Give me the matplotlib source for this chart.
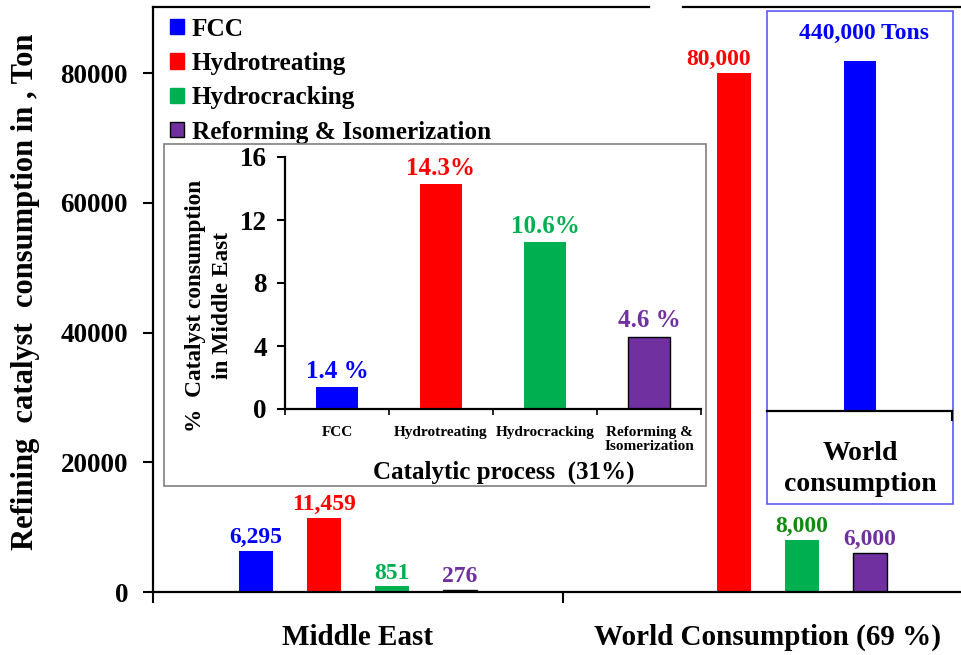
import matplotlib
matplotlib.use('Agg')
import matplotlib.pyplot as plt
import numpy as np
from matplotlib.patches import Patch, Rectangle

plt.rcParams['font.family'] = ['Liberation Serif', 'DejaVu Serif']
plt.rcParams['font.weight'] = 'bold'
plt.rcParams['axes.labelweight'] = 'bold'

# data
processes = ['FCC', 'Hydrotreating', 'Hydrocracking', 'Reforming & Isomerization']
inset_ticks = ['FCC', 'Hydrotreating', 'Hydrocracking', 'Reforming &\nIsomerization']
regions = ['Middle East', 'World Consumption (69 %)']
middle_east = [6295, 11459, 851, 276]
world = [440000, 80000, 8000, 6000]
me_labels = ['6,295', '11,459', '851', '276']
world_labels = ['440,000 Tons', '80,000', '8,000', '6,000']
me_share = [1.4, 14.3, 10.6, 4.6]
share_labels = ['1.4 %', '14.3%', '10.6%', '4.6 %']

colors = ['#0000FF', '#FF0000', '#00B050', '#7030A0']
me_text_colors = ['#0000FF', '#FF0000', '#00B050', '#7030A0']
world_text_colors = ['#0000FF', '#FF0000', '#118A11', '#7030A0']
edges = ['none', 'none', 'none', 'black']

W, H = 962, 655
fig = plt.figure(figsize=(W / 100, H / 100), dpi=100)


def fbox(x0, y0, x1, y1):
    # pixel box (top-left origin) -> figure coords
    return [x0 / W, 1 - y1 / H, (x1 - x0) / W, (y1 - y0) / H]


# ---------------- main axes
ax = fig.add_axes(fbox(153, 7, 973, 592))
ymax = 90200
ax.set_ylim(0, ymax)
ax.set_xlim(-0.5, 1.5)
bw = 34 / 410
step = 68 / 410
offsets = (np.arange(4) - 1.5) * step

for i in range(4):
    ax.bar(offsets[i], middle_east[i], bw, color=colors[i], edgecolor=edges[i], linewidth=1)
    ax.annotate(me_labels[i], (offsets[i], middle_east[i]), xytext=(0, 2),
                textcoords='offset points', ha='center', va='bottom',
                color=me_text_colors[i], fontsize=17)
    if world[i] < ymax:
        ax.bar(1 + offsets[i], world[i], bw, color=colors[i], edgecolor=edges[i], linewidth=1)
        dx = -11 if i == 1 else 0
        ax.annotate(world_labels[i], (1 + offsets[i], world[i]), xytext=(dx, 2),
                    textcoords='offset points', ha='center', va='bottom',
                    color=world_text_colors[i], fontsize=17)

ax.spines['right'].set_visible(False)
ax.spines['top'].set_visible(False)
for s in ['left', 'bottom']:
    ax.spines[s].set_linewidth(1.6)

# top border broken where the off-scale FCC bar passes
gx0 = 1 + offsets[0] - bw / 2
gx1 = 1 + offsets[0] + bw / 2
tr = ax.get_xaxis_transform()
ax.plot([-0.5, gx0], [1, 1], color='k', lw=1.6, transform=tr, clip_on=False)
ax.plot([gx1, 1.5], [1, 1], color='k', lw=1.6, transform=tr, clip_on=False)

ax.set_yticks([0, 20000, 40000, 60000, 80000])
ax.tick_params(axis='y', direction='out', length=7, width=1.5, labelsize=19.5, pad=11)
ax.set_xticks([-0.5, 0.5, 1.5])
ax.set_xticklabels([])
ax.tick_params(axis='x', which='major', direction='out', length=8, width=1.5)
ax.set_xticks([0, 1], minor=True)
ax.set_xticklabels(regions, minor=True, fontsize=21)
ax.tick_params(axis='x', which='minor', length=0, pad=23)
ax.set_ylabel('Refining  catalyst  consumption in , Ton', fontsize=22)
ax.yaxis.set_label_coords(-0.138, 0.513)

handles = [Patch(facecolor=c, edgecolor=e if e != 'none' else c) for c, e in zip(colors, edges)]
ax.legend(handles, processes, loc='upper left', bbox_to_anchor=(0.021, 0.982),
          frameon=False, fontsize=18.2, handlelength=0.55, handleheight=0.55,
          handletextpad=0.3, labelspacing=0.45, borderpad=0, borderaxespad=0)

# ---------------- inset: share of Middle East
frame = Rectangle((164 / W, 1 - 486 / H), 542 / W, 342 / H, transform=fig.transFigure,
                  facecolor='white', edgecolor='#7f7f7f', linewidth=1.2, zorder=1)
fig.patches.append(frame)

ins = fig.add_axes(fbox(285, 157, 701, 409))
ins.set_zorder(2)
ins.patch.set_alpha(0)
ins.set_xlim(-0.5, 3.5)
ins.set_ylim(0, 16)
x = np.arange(4)
ins.bar(x, me_share, 42 / 104, color=colors, edgecolor=edges, linewidth=1)
for i in range(4):
    ins.annotate(share_labels[i], (x[i], me_share[i]), xytext=(0, 3),
                 textcoords='offset points', ha='center', va='bottom',
                 color=me_text_colors[i], fontsize=18)
ins.spines['right'].set_visible(False)
ins.spines['top'].set_visible(False)
for s in ['left', 'bottom']:
    ins.spines[s].set_linewidth(1.6)
ins.set_yticks([0, 4, 8, 12, 16])
ins.tick_params(axis='y', direction='out', length=6, width=1.5, labelsize=19.5, pad=7)
ins.set_xticks([-0.5, 0.5, 1.5, 2.5, 3.5])
ins.set_xticklabels([])
ins.tick_params(axis='x', which='major', direction='out', length=4, width=1.2)
ins.set_xticks(x, minor=True)
ins.set_xticklabels(inset_ticks, minor=True, fontsize=11, linespacing=1.15, va='top')
ins.tick_params(axis='x', which='minor', length=0, pad=12)
ins.set_xlabel('Catalytic process  (31%)', fontsize=18)
ins.xaxis.set_label_coords(0.526, -0.25)
ins.xaxis.label.set_va('center')
ins.set_ylabel('%  Catalyst consumption\nin Middle East', fontsize=16.8, linespacing=1.4)
ins.yaxis.set_label_coords(-0.125, 0.41)

# ---------------- box: world FCC (off the main scale)
wbox = Rectangle((767 / W, 1 - 504 / H), 186 / W, 493 / H, transform=fig.transFigure,
                 facecolor='white', edgecolor='#5a5af5', linewidth=1.2, zorder=1)
fig.patches.append(wbox)
bx = fig.add_axes(fbox(767, 11, 952, 411))
bx.set_zorder(2)
bx.patch.set_alpha(0)
bx.set_xlim(-0.5, 0.5)
bx.set_ylim(0, world[0] * 400 / 350)
bx.bar(0.5 - 92 / 185, world[0], 32 / 185, color=colors[0])
bx.annotate(world_labels[0], (0.5 - 92 / 185, world[0]), xytext=(3, 12),
            textcoords='offset points', ha='center', va='bottom',
            color=world_text_colors[0], fontsize=17)
for s in ['left', 'right', 'top']:
    bx.spines[s].set_visible(False)
bx.spines['bottom'].set_linewidth(1.6)
bx.set_yticks([])
bx.set_xticks([0.5])
bx.set_xticklabels([])
bx.tick_params(axis='x', direction='out', length=7, width=1.5)
fig.text(860 / W, 1 - 469 / H, 'World\nconsumption', ha='center', va='center',
         fontsize=20, linespacing=1.3, zorder=3)

fig.savefig('out.png', dpi=100)
